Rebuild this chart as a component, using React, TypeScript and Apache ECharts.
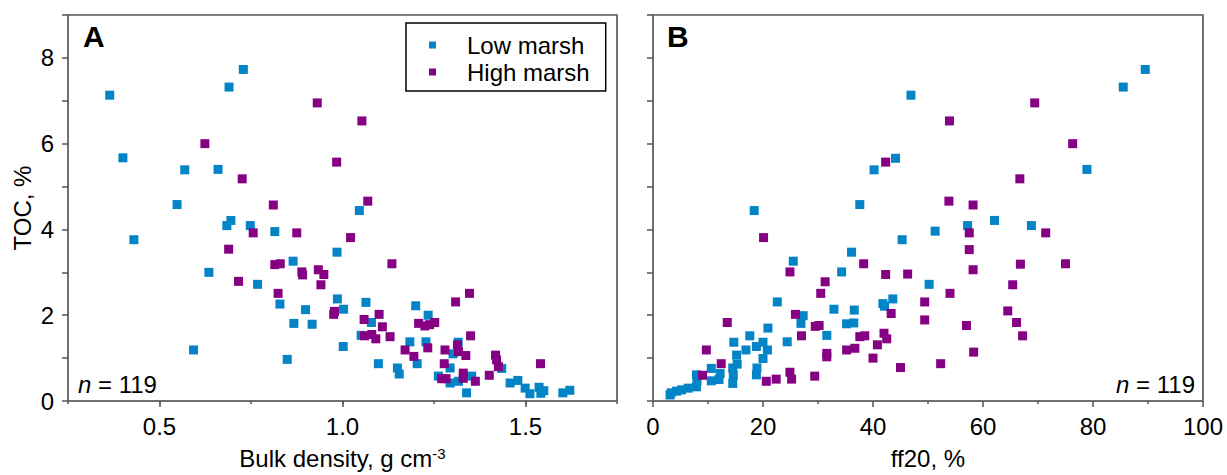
import React, { useEffect, useRef } from 'react';
import * as echarts from 'echarts';

// Panel A: bulk density (g cm-3) vs TOC (%)
const lowMarshA: [number, number][] = [
  [0.364, 7.13], [0.4, 5.67], [0.43, 3.76], [0.548, 4.58], [0.569, 5.39], [0.593, 1.19],
  [0.635, 3.0], [0.66, 5.4], [0.684, 4.09], [0.695, 4.21], [0.69, 7.32], [0.729, 7.73],
  [0.748, 4.09], [0.768, 2.72], [0.815, 3.95], [0.829, 2.26], [0.865, 3.26], [0.849, 0.97],
  [0.867, 1.81], [0.899, 2.13], [0.917, 1.79], [0.985, 3.47], [0.986, 2.38], [1.003, 2.14],
  [1.002, 1.27], [1.046, 4.44], [1.064, 2.3], [1.079, 1.83], [1.051, 1.53], [1.098, 0.87],
  [1.15, 0.77], [1.155, 0.63], [1.184, 1.38], [1.2, 2.22], [1.204, 0.87], [1.228, 1.38],
  [1.234, 2.0], [1.262, 0.58], [1.294, 0.77], [1.302, 1.1], [1.316, 1.37], [1.294, 0.42],
  [1.317, 0.46], [1.339, 0.19], [1.353, 0.58], [1.435, 0.76], [1.458, 0.42], [1.479, 0.48],
  [1.499, 0.3], [1.512, 0.17], [1.537, 0.32], [1.542, 0.18], [1.55, 0.24], [1.602, 0.19],
  [1.621, 0.25],
];
const highMarshA: [number, number][] = [
  [0.624, 6.0], [0.726, 5.18], [0.689, 3.54], [0.716, 2.79], [0.756, 3.92], [0.811, 4.57],
  [0.815, 3.18], [0.83, 3.2], [0.824, 2.51], [0.875, 3.92], [0.889, 3.01], [0.891, 2.94],
  [0.931, 6.95], [0.934, 3.06], [0.949, 2.95], [0.941, 2.71], [0.978, 2.09], [0.976, 2.02],
  [0.984, 5.57], [1.022, 3.81], [1.053, 6.53], [1.069, 4.66], [1.135, 3.2], [1.059, 1.9],
  [1.1, 2.02], [1.109, 1.73], [1.06, 1.52], [1.08, 1.55], [1.091, 1.45], [1.13, 1.5],
  [1.171, 1.19], [1.195, 1.04], [1.208, 1.81], [1.225, 1.75], [1.238, 1.78], [1.252, 1.83],
  [1.233, 1.24], [1.28, 1.19], [1.309, 2.31], [1.347, 2.51], [1.35, 1.52], [1.314, 1.31],
  [1.317, 1.15], [1.337, 1.06], [1.278, 0.87], [1.271, 0.52], [1.283, 0.52], [1.33, 0.65],
  [1.33, 0.53], [1.363, 0.46], [1.401, 0.6], [1.418, 1.07], [1.421, 0.96], [1.426, 0.8],
  [1.541, 0.87],
];

// Panel B: ff20 (%) vs TOC (%)
const lowMarshB: [number, number][] = [
  [46.9, 7.13], [85.5, 7.32], [89.5, 7.73], [40.2, 5.39], [44.1, 5.66], [78.9, 5.4],
  [18.4, 4.44], [37.6, 4.58], [57.2, 4.09], [62.1, 4.21], [68.8, 4.09], [51.3, 3.96],
  [45.3, 3.76], [36.1, 3.47], [25.5, 3.26], [34.3, 3.01], [50.2, 2.72], [22.6, 2.31],
  [41.8, 2.27], [42.1, 2.21], [43.6, 2.38], [32.9, 2.14], [36.6, 2.12], [27.3, 1.99],
  [26.9, 1.81], [35.2, 1.8], [36.5, 1.82], [20.9, 1.7], [31.6, 1.53], [24.4, 1.38],
  [14.7, 1.37], [17.6, 1.52], [16.9, 1.19], [18.8, 1.27], [20.0, 1.37], [20.8, 1.19],
  [15.2, 1.07], [15.3, 0.86], [20.0, 0.99], [18.9, 0.77], [18.8, 0.61], [14.5, 0.77],
  [14.6, 0.6], [14.5, 0.41], [10.6, 0.76], [12.2, 0.64], [12.0, 0.5], [10.6, 0.47],
  [7.9, 0.61], [8.0, 0.46], [7.9, 0.33], [6.4, 0.3], [5.2, 0.26], [4.3, 0.23],
  [3.3, 0.19], [3.1, 0.14],
];
const highMarshB: [number, number][] = [
  [69.4, 6.95], [53.9, 6.53], [76.3, 6.0], [42.3, 5.57], [66.7, 5.18], [53.8, 4.66],
  [58.2, 4.57], [20.1, 3.81], [57.5, 3.92], [71.4, 3.92], [57.5, 3.53], [38.3, 3.2],
  [66.8, 3.19], [75.0, 3.2], [24.9, 3.01], [42.3, 2.95], [46.3, 2.96], [58.2, 3.06],
  [31.3, 2.78], [30.5, 2.51], [54.0, 2.51], [65.4, 2.71], [49.4, 2.31], [25.9, 2.02],
  [43.3, 2.04], [49.4, 1.89], [64.5, 2.1], [66.1, 1.83], [67.2, 1.52], [57.0, 1.76],
  [58.3, 1.14], [13.5, 1.83], [29.5, 1.74], [30.2, 1.76], [27.0, 1.52], [37.6, 1.5],
  [38.5, 1.52], [42.0, 1.58], [42.5, 1.45], [31.6, 1.11], [31.6, 1.03], [35.2, 1.19],
  [36.7, 1.23], [40.8, 1.31], [40.0, 1.0], [45.0, 0.78], [52.3, 0.87], [9.7, 1.19],
  [12.4, 0.87], [9.0, 0.6], [20.6, 0.46], [22.4, 0.51], [24.9, 0.67], [25.2, 0.51],
  [29.4, 0.58],
];

const seriesNames = ['Low marsh', 'High marsh'];
const xLabelsA = [0.5, 1.0, 1.5];
const xLabelsB = [0, 20, 40, 60, 80, 100];
const yLabels = [0, 2, 4, 6, 8];
const sampleCount = 119;

const FONT = '"Liberation Sans", Arial, Helvetica, sans-serif';
const BLUE = '#0284c7';
const PURPLE = '#860084';
const AXIS_GRAY = '#707070';
const TICK_GRAY = '#555555';

export default function App() {
  const ref = useRef<HTMLDivElement>(null);

  useEffect(() => {
    document.body.style.margin = '0';
    if (!ref.current) return;
    const chart = echarts.init(ref.current, undefined, { renderer: 'svg' });

    const labelStyle = { fontSize: 24, fontFamily: FONT, color: '#000' };
    const yFormatter = (v: number) => (yLabels.indexOf(Math.round(v)) >= 0 && Math.abs(v - Math.round(v)) < 1e-6 ? String(Math.round(v)) : '');

    const scatter = (name: string, data: [number, number][], color: string, xi: number, yi: number) => ({
      type: 'scatter',
      name,
      data,
      xAxisIndex: xi,
      yAxisIndex: yi,
      symbol: 'rect',
      symbolSize: 9,
      itemStyle: { color, opacity: 1 },
      emphasis: { disabled: true },
      silent: true,
    });

    const yAxisLeft = (gridIndex: number, showLabels: boolean, withName: boolean) => ({
      type: 'value',
      gridIndex,
      min: 0,
      max: 9,
      interval: 1,
      position: 'left',
      axisLine: { show: true, onZero: false, lineStyle: { color: AXIS_GRAY, width: 2 } },
      axisTick: { show: true, length: 6, lineStyle: { color: TICK_GRAY, width: 1.5 } },
      axisLabel: { show: showLabels, formatter: yFormatter, margin: 14, ...labelStyle },
      splitLine: { show: false },
      name: withName ? 'TOC, %' : '',
      nameLocation: 'middle',
      nameGap: 34,
      nameTextStyle: { ...labelStyle },
    });
    const yAxisRight = (gridIndex: number) => ({
      type: 'value',
      gridIndex,
      min: 0,
      max: 9,
      interval: 1,
      position: 'right',
      axisLine: { show: true, onZero: false, lineStyle: { color: AXIS_GRAY, width: 2 } },
      axisTick: { show: false },
      axisLabel: { show: false },
      splitLine: { show: false },
    });

    const option = {
      animation: false,
      backgroundColor: '#ffffff',
      grid: [
        { left: 68, top: 15, width: 549, height: 388, show: true, borderColor: '#000', borderWidth: 1, containLabel: false },
        { left: 653, top: 15, width: 550, height: 388, show: true, borderColor: '#000', borderWidth: 1, containLabel: false },
      ],
      legend: {
        left: 406,
        top: 23,
        orient: 'vertical',
        padding: [10, 16, 7, 23],
        itemGap: 3,
        itemWidth: 7,
        itemHeight: 7,
        icon: 'rect',
        borderColor: '#000',
        borderWidth: 1.5,
        backgroundColor: '#fff',
        selectedMode: false,
        textStyle: { ...labelStyle, padding: [0, 0, 0, 26] },
        data: seriesNames,
      },
      xAxis: [
        {
          type: 'value',
          gridIndex: 0,
          min: 0.25,
          max: 1.75,
          interval: 0.25,
          position: 'bottom',
          axisLine: { show: true, onZero: false, lineStyle: { color: AXIS_GRAY, width: 2 } },
          axisTick: { show: true, length: 3, lineStyle: { color: TICK_GRAY, width: 1.5 } },
          axisLabel: {
            show: true,
            margin: 13,
            ...labelStyle,
            formatter: (v: number) => (xLabelsA.some((t) => Math.abs(t - v) < 1e-6) ? v.toFixed(1) : ''),
          },
          splitLine: { show: false },
          name: '{a|Bulk density, g cm}{s|-3}',
          nameLocation: 'middle',
          nameGap: 45,
          nameTextStyle: {
            ...labelStyle,
            rich: {
              a: { ...labelStyle },
              s: { fontSize: 15, fontFamily: FONT, color: '#000', verticalAlign: 'top' },
            },
          },
        },
        {
          type: 'value',
          gridIndex: 0,
          min: 0.25,
          max: 1.75,
          position: 'bottom',
          axisLine: { show: false, onZero: false },
          axisTick: { show: true, length: 6, customValues: xLabelsA, lineStyle: { color: TICK_GRAY, width: 1.5 } },
          axisLabel: { show: false },
          splitLine: { show: false },
        },
        {
          type: 'value',
          gridIndex: 1,
          min: 0,
          max: 100,
          interval: 20,
          position: 'bottom',
          axisLine: { show: true, onZero: false, lineStyle: { color: AXIS_GRAY, width: 2 } },
          axisTick: { show: true, length: 6, lineStyle: { color: TICK_GRAY, width: 1.5 } },
          minorTick: { show: true, splitNumber: 2, length: 3, lineStyle: { color: TICK_GRAY, width: 1.5 } },
          axisLabel: {
            show: true,
            margin: 13,
            ...labelStyle,
            formatter: (v: number) => (xLabelsB.indexOf(v) >= 0 ? String(v) : ''),
          },
          splitLine: { show: false },
          name: 'ff20, %',
          nameLocation: 'middle',
          nameGap: 45,
          nameTextStyle: { ...labelStyle },
        },
      ],
      yAxis: [yAxisLeft(0, true, true), yAxisRight(0), yAxisLeft(1, false, false), yAxisRight(1)],
      series: [
        scatter(seriesNames[0], lowMarshA, BLUE, 0, 0),
        scatter(seriesNames[1], highMarshA, PURPLE, 0, 0),
        scatter(seriesNames[0], lowMarshB, BLUE, 2, 2),
        scatter(seriesNames[1], highMarshB, PURPLE, 2, 2),
      ],
      graphic: [
        { type: 'text', x: 83, y: 36, silent: true, style: { text: 'A', font: `bold 30px ${FONT}`, fill: '#000', align: 'left', verticalAlign: 'middle' } },
        { type: 'text', x: 667, y: 36, silent: true, style: { text: 'B', font: `bold 30px ${FONT}`, fill: '#000', align: 'left', verticalAlign: 'middle' } },
        {
          type: 'text', x: 78, y: 384.5, silent: true,
          style: {
            text: `{i|n} = ${sampleCount}`, fontSize: 24, fontFamily: FONT, fill: '#000', align: 'left', verticalAlign: 'middle',
            rich: { i: { fontStyle: 'italic', fontSize: 24, fontFamily: FONT, fill: '#000' } },
          },
        },
        {
          type: 'text', x: 1195, y: 384.5, silent: true,
          style: {
            text: `{i|n} = ${sampleCount}`, fontSize: 24, fontFamily: FONT, fill: '#000', align: 'right', verticalAlign: 'middle',
            rich: { i: { fontStyle: 'italic', fontSize: 24, fontFamily: FONT, fill: '#000' } },
          },
        },
      ],
    };

    chart.setOption(option as any);
    return () => chart.dispose();
  }, []);

  return <div ref={ref} style={{ width: 1227, height: 475 }} />;
}
